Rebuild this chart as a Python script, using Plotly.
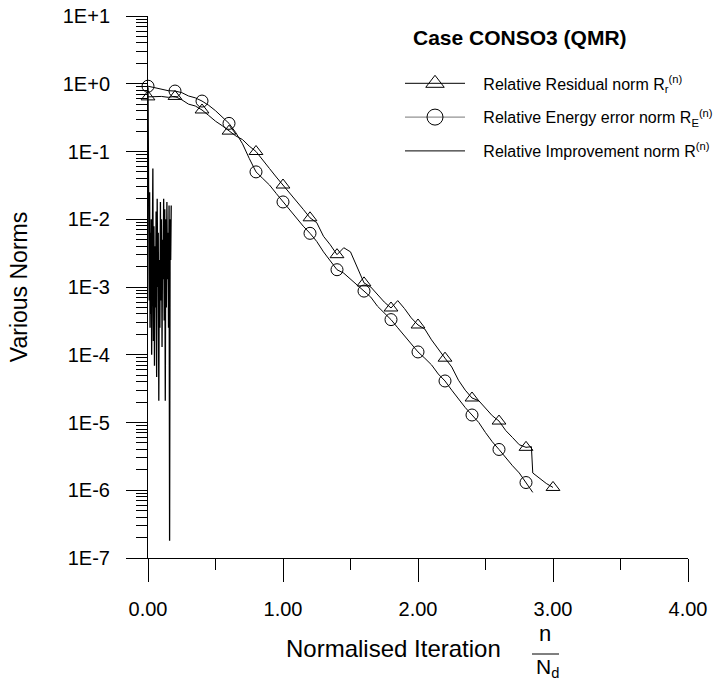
import plotly.graph_objects as go

# ---------------- data ----------------
# Relative residual norm (dense line)
res_x = [0.00, 0.05, 0.10, 0.15, 0.20, 0.25, 0.30, 0.35, 0.40, 0.45, 0.50, 0.55, 0.60, 0.65, 0.70,
         0.75, 0.80, 0.85, 0.90, 0.95, 1.00, 1.05, 1.10, 1.15, 1.20, 1.25, 1.30, 1.35, 1.40, 1.45,
         1.50, 1.55, 1.60, 1.65, 1.70, 1.75, 1.80, 1.85, 1.90, 1.95, 2.00, 2.05, 2.10, 2.15, 2.20,
         2.25, 2.30, 2.35, 2.40, 2.45, 2.50, 2.55, 2.60, 2.65, 2.70, 2.75, 2.80, 2.84, 2.85, 2.90,
         2.95, 3.00]
res_y = [0.64, 0.65, 0.65, 0.63, 0.65, 0.58, 0.50, 0.47, 0.41, 0.34, 0.28, 0.24, 0.20, 0.17, 0.15,
         0.12, 0.10, 0.076, 0.056, 0.042, 0.032, 0.025, 0.019, 0.014, 0.0105, 0.0089, 0.0056, 0.0042,
         0.0030, 0.0038, 0.0033, 0.0019, 0.00115, 0.0010, 0.00076, 0.00060, 0.00049, 0.00063, 0.00048,
         0.00035, 0.000275, 0.00024, 0.000166, 0.00012, 8.9e-5, 6.6e-5, 4.2e-5, 3.0e-5, 2.3e-5,
         2.1e-5, 1.6e-5, 1.26e-5, 1.05e-5, 7.6e-6, 6.0e-6, 4.7e-6, 4.3e-6, 4.4e-6, 1.8e-6, 1.5e-6,
         1.26e-6, 1.1e-6]
res_mk_x = [0.0, 0.2, 0.4, 0.6, 0.8, 1.0, 1.2, 1.4, 1.6, 1.8, 2.0, 2.2, 2.4, 2.6, 2.8, 3.0]
res_mk_y = [0.64, 0.65, 0.41, 0.20, 0.10, 0.032, 0.0105, 0.0030, 0.00115, 0.00049, 0.000275,
            8.9e-5, 2.3e-5, 1.05e-5, 4.3e-6, 1.1e-6]

# Relative energy error norm (dense line)
en_x = [0.00, 0.05, 0.10, 0.15, 0.20, 0.25, 0.30, 0.35, 0.40, 0.45, 0.50, 0.55, 0.60, 0.65, 0.70,
        0.75, 0.80, 0.85, 0.90, 0.95, 1.00, 1.05, 1.10, 1.15, 1.20, 1.25, 1.30, 1.35, 1.40, 1.45,
        1.50, 1.55, 1.60, 1.65, 1.70, 1.75, 1.80, 1.85, 1.90, 1.95, 2.00, 2.05, 2.10, 2.15, 2.20,
        2.25, 2.30, 2.35, 2.40, 2.45, 2.50, 2.55, 2.60, 2.65, 2.70, 2.75, 2.80, 2.85]
en_y = [0.92, 0.87, 0.83, 0.79, 0.78, 0.74, 0.66, 0.62, 0.555, 0.48, 0.40, 0.32, 0.26, 0.19, 0.13,
        0.079, 0.050, 0.040, 0.032, 0.024, 0.018, 0.014, 0.0105, 0.0079, 0.0062, 0.0047, 0.0033,
        0.0024, 0.0018, 0.0016, 0.0013, 0.00107, 0.00087, 0.00071, 0.00052, 0.00042, 0.00033,
        0.00025, 0.00019, 0.000145, 0.00011, 8.9e-5, 7.1e-5, 5.2e-5, 4.1e-5, 3.0e-5, 2.2e-5,
        1.66e-5, 1.29e-5, 1.0e-5, 7.1e-6, 5.2e-6, 4.0e-6, 3.0e-6, 2.3e-6, 1.8e-6, 1.3e-6, 9.3e-7]
en_mk_x = [0.0, 0.2, 0.4, 0.6, 0.8, 1.0, 1.2, 1.4, 1.6, 1.8, 2.0, 2.2, 2.4, 2.6, 2.8]
en_mk_y = [0.92, 0.78, 0.555, 0.26, 0.050, 0.018, 0.0062, 0.0018, 0.00087, 0.00033, 0.00011,
           4.1e-5, 1.29e-5, 4.0e-6, 1.3e-6]

# Relative improvement norm
imp_x = [0.000, 0.003, 0.006, 0.009, 0.012, 0.015, 0.018, 0.021, 0.024, 0.027, 0.030, 0.033,
         0.036, 0.040, 0.044, 0.048, 0.052, 0.056, 0.060, 0.064, 0.068, 0.072, 0.076, 0.080,
         0.084, 0.088, 0.092, 0.096, 0.100, 0.104, 0.108, 0.112, 0.116, 0.120, 0.124, 0.128,
         0.132, 0.136, 0.140, 0.144, 0.148, 0.152, 0.156, 0.160, 0.164, 0.168, 0.172]
imp_y = [0.89, 0.1, 3.2e-3, 6.3e-4, 2.5e-2, 2.5e-4, 6.3e-3, 4.0e-4, 1.0e-2, 1.0e-4, 5.0e-3, 3.2e-4,
         5.6e-2, 1.6e-4, 7.9e-3, 6.9e-5, 4.0e-3, 5.0e-4, 1.3e-2, 4.7e-5, 2.0e-2, 1.0e-3, 6.3e-3,
         2.1e-5, 2.5e-3, 2.5e-4, 1.8e-2, 6.3e-4, 1.0e-2, 1.3e-4, 5.0e-3, 1.3e-3, 2.0e-2, 3.2e-4,
         1.4e-2, 2.1e-5, 1.0e-2, 5.0e-4, 1.8e-2, 1.3e-3, 6.3e-3, 2.5e-4, 1.6e-2, 1.8e-7, 1.0e-2,
         2.5e-3, 1.6e-2]

x_tickvals = [0, 1, 2, 3, 4]
x_ticktext = ["0.00", "1.00", "2.00", "3.00", "4.00"]
y_tickvals = [1e1, 1e0, 1e-1, 1e-2, 1e-3, 1e-4, 1e-5, 1e-6, 1e-7]
y_ticktext = ["1E+1", "1E+0", "1E-1", "1E-2", "1E-3", "1E-4", "1E-5", "1E-6", "1E-7"]

PAD = "\u00a0\u00a0\u00a0"
legend_names = [PAD + "Relative Residual norm R<sub>r</sub><sup>(n)</sup>",
                PAD + "Relative Energy error norm R<sub>E</sub><sup>(n)</sup>",
                PAD + "Relative Improvement norm R<sup>(n)</sup>"]

FONT = "Arial, Liberation Sans, sans-serif"
BLACK = "#000000"

fig = go.Figure()

# data lines
fig.add_trace(go.Scatter(x=res_x, y=res_y, mode="lines", line=dict(color=BLACK, width=1),
                         showlegend=False, hoverinfo="skip"))
fig.add_trace(go.Scatter(x=en_x, y=en_y, mode="lines", line=dict(color=BLACK, width=1),
                         showlegend=False, hoverinfo="skip"))
fig.add_trace(go.Scatter(x=imp_x, y=imp_y, mode="lines", line=dict(color=BLACK, width=1.3),
                         showlegend=False, hoverinfo="skip"))
# markers
fig.add_trace(go.Scatter(x=res_mk_x, y=res_mk_y, mode="markers", cliponaxis=False,
                         marker=dict(symbol="triangle-up-open", size=12, color=BLACK,
                                     line=dict(width=1, color=BLACK)),
                         showlegend=False))
fig.add_trace(go.Scatter(x=en_mk_x, y=en_mk_y, mode="markers", cliponaxis=False,
                         marker=dict(symbol="circle-open", size=12, color=BLACK,
                                     line=dict(width=1, color=BLACK)),
                         showlegend=False))
# legend entries
fig.add_trace(go.Scatter(x=[None], y=[None], mode="lines+markers", name=legend_names[0],
                         legendgroup="a", line=dict(color=BLACK, width=1),
                         marker=dict(symbol="triangle-up-open", size=18, color=BLACK,
                                     line=dict(width=1, color=BLACK))))
fig.add_trace(go.Scatter(x=[None], y=[None], mode="lines+markers", name=legend_names[1],
                         legendgroup="b", line=dict(color="#777777", width=1),
                         marker=dict(symbol="circle-open", size=18, color=BLACK,
                                     line=dict(width=1, color=BLACK))))
fig.add_trace(go.Scatter(x=[None], y=[None], mode="lines", name=legend_names[2],
                         legendgroup="c", line=dict(color=BLACK, width=1)))

minor_y = [m * 10.0 ** e for e in range(-7, 1) for m in range(2, 10)]

fig.update_layout(
    width=716, height=686,
    margin=dict(l=148, r=28, t=16, b=128, autoexpand=False),
    paper_bgcolor="white", plot_bgcolor="white",
    font=dict(family=FONT, color=BLACK, size=16),
    title=dict(text="<b>Case CONSO3 (QMR)</b>", x=(413 - 148) / 540, xref="paper",
               xanchor="left", y=1 - 38 / 686, yref="container", yanchor="middle",
               font=dict(size=21, family=FONT, color=BLACK)),
    legend=dict(x=(400 - 148) / 540, y=0.907, xanchor="left", yanchor="top",
                bgcolor="rgba(0,0,0,0)",
                font=dict(size=16, family=FONT, color=BLACK), tracegroupgap=10,
                itemwidth=60, itemsizing="trace"),
    xaxis=dict(range=[0, 4], showgrid=False, zeroline=False, showline=True, linecolor=BLACK,
               linewidth=1, ticks="outside", ticklen=23, tickcolor=BLACK, tickwidth=1,
               tickvals=x_tickvals, ticktext=x_ticktext, tickfont=dict(size=20),
               ticklabelstandoff=10,
               minor=dict(ticks="outside", ticklen=11, tickcolor=BLACK, tickwidth=1,
                          tickmode="linear", tick0=0, dtick=0.5, showgrid=False)),
    yaxis=dict(type="log", range=[-7, 1], showgrid=False, zeroline=False, showline=True,
               linecolor=BLACK, linewidth=1, ticks="outside", ticklen=21, tickcolor=BLACK,
               tickwidth=1, tickvals=y_tickvals, ticktext=y_ticktext, tickfont=dict(size=20),
               ticklabelstandoff=12,
               title=dict(text="Various Norms", font=dict(size=23), standoff=28),
               minor=dict(ticks="outside", ticklen=11, tickcolor=BLACK, tickwidth=1,
                          tickvals=minor_y, showgrid=False)),
)

# x-axis title with fraction n / N_d
fig.add_annotation(text="Normalised Iteration", xref="paper", yref="paper",
                   x=(393 - 148) / 540, y=-(648 - 558) / 542, xanchor="center", yanchor="middle",
                   showarrow=False, font=dict(size=24, family=FONT, color=BLACK))
fig.add_annotation(text="n", xref="paper", yref="paper",
                   x=(545 - 148) / 540, y=-(634 - 558) / 542, xanchor="center", yanchor="middle",
                   showarrow=False, font=dict(size=22, family=FONT, color=BLACK))
fig.add_annotation(text="N<sub>d</sub>", xref="paper", yref="paper",
                   x=(547 - 148) / 540, y=-(668 - 558) / 542, xanchor="center", yanchor="middle",
                   showarrow=False, font=dict(size=21, family=FONT, color=BLACK))
fig.add_shape(type="line", xref="paper", yref="paper",
              x0=(532 - 148) / 540, x1=(559 - 148) / 540,
              y0=-(654 - 558) / 542, y1=-(654 - 558) / 542,
              line=dict(color=BLACK, width=1))

fig.write_html("out.html")
